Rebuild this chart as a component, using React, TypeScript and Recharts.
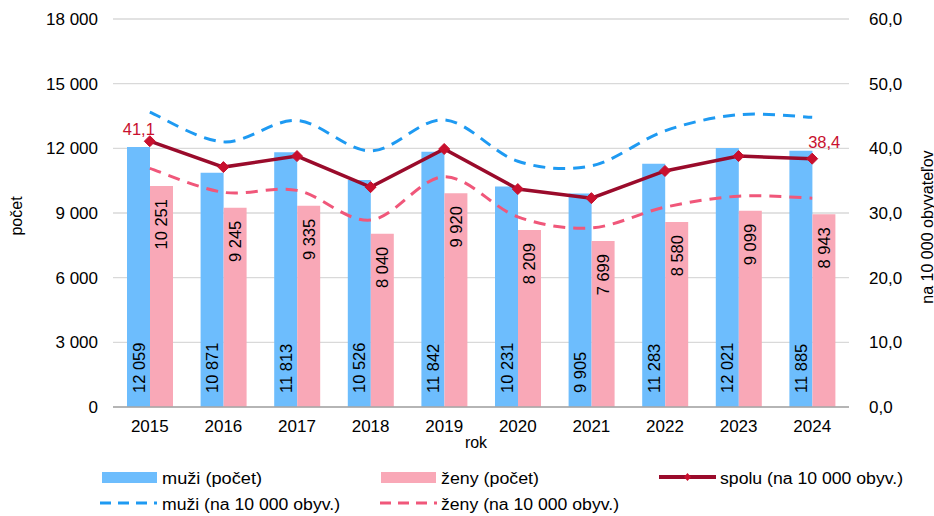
import React from "react";
import {
  ComposedChart,
  Bar,
  Line,
  XAxis,
  YAxis,
  CartesianGrid,
  LabelList,
} from "recharts";

const years = ["2015", "2016", "2017", "2018", "2019", "2020", "2021", "2022", "2023", "2024"];
const muziCount = [12059, 10871, 11813, 10526, 11842, 10231, 9905, 11283, 12021, 11885];
const zenyCount = [10251, 9245, 9335, 8040, 9920, 8209, 7699, 8580, 9099, 8943];
const spoluRate = [41.1, 37.1, 38.8, 34.0, 39.9, 33.7, 32.3, 36.5, 38.8, 38.4];
const muziRate = [45.6, 41.0, 44.3, 39.6, 44.4, 38.0, 37.3, 42.7, 45.2, 44.8];
const zenyRate = [36.9, 33.2, 33.5, 28.9, 35.6, 29.4, 27.7, 30.9, 32.6, 32.3];
const leftTicks = [0, 3000, 6000, 9000, 12000, 15000, 18000];
const rightTicks = [0, 10, 20, 30, 40, 50, 60];

const data = years.map((rok, i) => ({
  rok,
  muzi: muziCount[i],
  zeny: zenyCount[i],
  spolu: spoluRate[i],
  muziRate: muziRate[i],
  zenyRate: zenyRate[i],
}));

const FONT = "'Liberation Sans', Arial, sans-serif";
const BLUE_BAR = "#6DBDFD";
const PINK_BAR = "#F9A8B7";
const BLUE_LINE = "#1E9AF2";
const PINK_LINE = "#F0577A";
const DARK_RED = "#9A0B2B";
const RED_MARK = "#C8102E";

const fmtInt = (v: number) => String(v).replace(/\B(?=(\d{3})+(?!\d))/g, " ");
const fmtDec = (v: number) => v.toFixed(1).replace(".", ",");

// Excel-like smoothed line (Catmull-Rom style bezier)
const smoothCurve = (context: any) => {
  let pts: number[][] = [];
  return {
    areaStart() {},
    areaEnd() {},
    lineStart() {
      pts = [];
    },
    point(x: number, y: number) {
      pts.push([+x, +y]);
    },
    lineEnd() {
      if (!pts.length) return;
      context.moveTo(pts[0][0], pts[0][1]);
      for (let i = 0; i < pts.length - 1; i++) {
        const p0 = pts[Math.max(i - 1, 0)];
        const p1 = pts[i];
        const p2 = pts[i + 1];
        const p3 = pts[Math.min(i + 2, pts.length - 1)];
        context.bezierCurveTo(
          p1[0] + (p2[0] - p0[0]) / 6,
          p1[1] + (p2[1] - p0[1]) / 6,
          p2[0] - (p3[0] - p1[0]) / 6,
          p2[1] - (p3[1] - p1[1]) / 6,
          p2[0],
          p2[1]
        );
      }
    },
  };
};

// rotated labels inside the bars
const bottomLabel = (props: any) => {
  const { x, y, width, height, value } = props;
  const cx = x + width / 2;
  const ay = y + height - 14;
  return (
    <text
      x={cx}
      y={ay}
      transform={`rotate(-90, ${cx}, ${ay})`}
      textAnchor="start"
      dominantBaseline="central"
      fontSize={16.5}
      fill="#000"
    >
      {fmtInt(value)}
    </text>
  );
};

const topLabel = (props: any) => {
  const { x, y, width, value } = props;
  const cx = x + width / 2;
  const ay = y + 13;
  return (
    <text
      x={cx}
      y={ay}
      transform={`rotate(-90, ${cx}, ${ay})`}
      textAnchor="end"
      dominantBaseline="central"
      fontSize={16.5}
      fill="#000"
    >
      {fmtInt(value)}
    </text>
  );
};

const endLabel = (props: any) => {
  const { x, y, value, index } = props;
  if (index === 0) {
    return (
      <text x={x - 11} y={y - 12} textAnchor="middle" dominantBaseline="central" fontSize={16.5} fill={RED_MARK}>
        {fmtDec(value)}
      </text>
    );
  }
  if (index === years.length - 1) {
    return (
      <text x={x + 12} y={y - 17} textAnchor="middle" dominantBaseline="central" fontSize={16.5} fill={RED_MARK}>
        {fmtDec(value)}
      </text>
    );
  }
  return null;
};

const Diamond = (props: any) => {
  const { cx, cy } = props;
  if (cx == null || cy == null) return null;
  const r = 5.5;
  return (
    <polygon
      points={`${cx},${cy - r} ${cx + r},${cy} ${cx},${cy + r} ${cx - r},${cy}`}
      fill={RED_MARK}
      stroke={RED_MARK}
    />
  );
};

function Legend() {
  const fs = 16;
  return (
    <svg
      width={934}
      height={76}
      style={{ position: "absolute", left: 0, top: 440, fontFamily: FONT }}
    >
      <rect x={102} y={32} width={55} height={11} fill={BLUE_BAR} />
      <text x={162} y={38} dominantBaseline="central" fontSize={fs} textLength={100} lengthAdjust="spacingAndGlyphs">
        muži (počet)
      </text>
      <rect x={381} y={32} width={55} height={11} fill={PINK_BAR} />
      <text x={441} y={38} dominantBaseline="central" fontSize={fs} textLength={98} lengthAdjust="spacingAndGlyphs">
        ženy (počet)
      </text>
      <line x1={659} x2={716} y1={37} y2={37} stroke={DARK_RED} strokeWidth={4} />
      <polygon points="687.5,33 691,37 687.5,41 684,37" fill={RED_MARK} />
      <text x={720} y={38} dominantBaseline="central" fontSize={fs} textLength={183} lengthAdjust="spacingAndGlyphs">
        spolu (na 10 000 obyv.)
      </text>
      <line x1={100} x2={157} y1={63} y2={63} stroke={BLUE_LINE} strokeWidth={3} strokeDasharray="11 7" />
      <text x={162} y={64} dominantBaseline="central" fontSize={fs} textLength={178} lengthAdjust="spacingAndGlyphs">
        muži (na 10 000 obyv.)
      </text>
      <line x1={380} x2={437} y1={63} y2={63} stroke={PINK_LINE} strokeWidth={3} strokeDasharray="11 7" />
      <text x={441} y={64} dominantBaseline="central" fontSize={fs} textLength={178} lengthAdjust="spacingAndGlyphs">
        ženy (na 10 000 obyv.)
      </text>
    </svg>
  );
}

export default function App() {
  return (
    <div style={{ position: "absolute", left: 0, top: 0, width: 934, height: 516, background: "#fff", fontFamily: FONT }}>
      <ComposedChart
        width={934}
        height={516}
        data={data}
        margin={{ top: 19, right: 0, bottom: 0, left: 0 }}
        barGap={0}
        style={{ fontFamily: FONT }}
      >
        <CartesianGrid yAxisId="left" vertical={false} stroke="#d9d9d9" strokeWidth={1.3} />
        <XAxis
          dataKey="rok"
          height={109}
          tickSize={0}
          tickMargin={13}
          tick={{ fill: "#000", fontSize: 17 }}
          axisLine={{ stroke: "#a6a6a6", strokeWidth: 1.5 }}
          label={(p: any) => {
            const vb = p.viewBox;
            return (
              <text x={vb.x + vb.width / 2 - 5} y={vb.y + 35} textAnchor="middle" dominantBaseline="central" fontSize={16} fill="#000">
                rok
              </text>
            );
          }}
        />
        <YAxis
          yAxisId="left"
          width={113}
          domain={[0, 18000]}
          ticks={leftTicks}
          tickFormatter={fmtInt}
          tickSize={0}
          tickMargin={15}
          axisLine={false}
          tick={{ fill: "#000", fontSize: 17 }}
          label={(p: any) => {
            const vb = p.viewBox;
            const cx = 16;
            const cy = vb.y + vb.height / 2 + 3;
            return (
              <text x={cx} y={cy} transform={`rotate(-90, ${cx}, ${cy})`} textAnchor="middle" dominantBaseline="central" fontSize={16} fill="#000">
                počet
              </text>
            );
          }}
        />
        <YAxis
          yAxisId="right"
          orientation="right"
          width={85}
          domain={[0, 60]}
          ticks={rightTicks}
          tickFormatter={fmtDec}
          tickSize={0}
          tickMargin={20}
          axisLine={false}
          tick={{ fill: "#000", fontSize: 17, textAnchor: "start" }}
          label={(p: any) => {
            const vb = p.viewBox;
            const cx = 927;
            const cy = vb.y + vb.height / 2 + 14;
            return (
              <text x={cx} y={cy} transform={`rotate(-90, ${cx}, ${cy})`} textAnchor="middle" dominantBaseline="central" fontSize={16} fill="#000">
                na 10 000 obyvateľov
              </text>
            );
          }}
        />
        <Bar yAxisId="left" dataKey="muzi" fill={BLUE_BAR} barSize={23} isAnimationActive={false}>
          <LabelList dataKey="muzi" content={bottomLabel} />
        </Bar>
        <Bar yAxisId="left" dataKey="zeny" fill={PINK_BAR} barSize={23} isAnimationActive={false}>
          <LabelList dataKey="zeny" content={topLabel} />
        </Bar>
        <Line
          yAxisId="right"
          type={smoothCurve as any}
          dataKey="muziRate"
          stroke={BLUE_LINE}
          strokeWidth={3}
          strokeDasharray="12 8"
          dot={false}
          activeDot={false}
          isAnimationActive={false}
        />
        <Line
          yAxisId="right"
          type={smoothCurve as any}
          dataKey="zenyRate"
          stroke={PINK_LINE}
          strokeWidth={3}
          strokeDasharray="12 8"
          dot={false}
          activeDot={false}
          isAnimationActive={false}
        />
        <Line
          yAxisId="right"
          type="linear"
          dataKey="spolu"
          stroke={DARK_RED}
          strokeWidth={3.5}
          dot={<Diamond />}
          activeDot={false}
          isAnimationActive={false}
        >
          <LabelList dataKey="spolu" content={endLabel} />
        </Line>
      </ComposedChart>
      <Legend />
    </div>
  );
}
